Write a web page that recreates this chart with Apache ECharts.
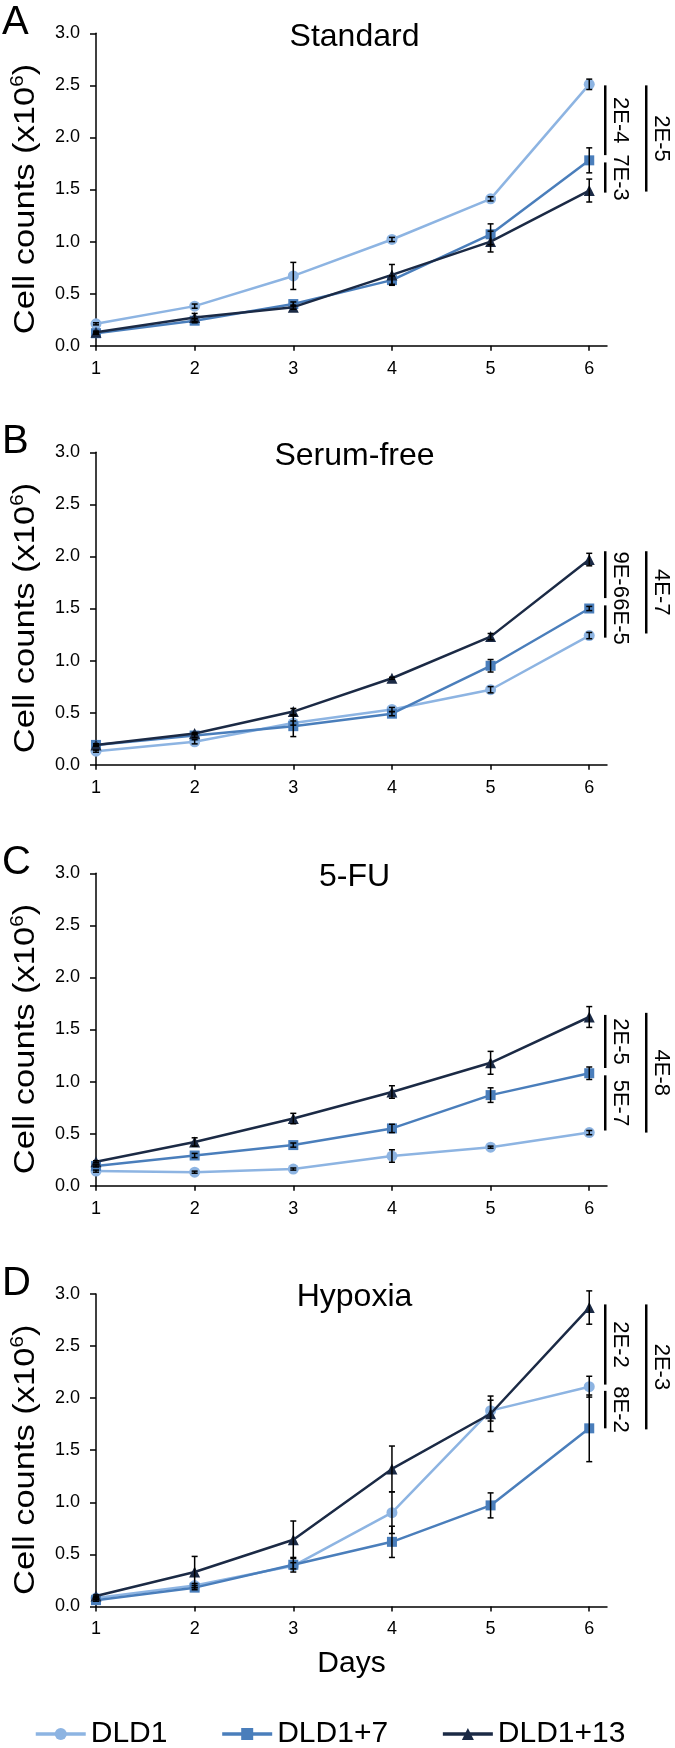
<!DOCTYPE html>
<html>
<head>
<meta charset="utf-8">
<script src="https://cdn.jsdelivr.net/npm/echarts@6/dist/echarts.min.js"></script>
<style>
html,body{margin:0;padding:0;background:#fff;}
#c{width:675px;height:1748px;}
</style>
</head>
<body>
<div id="c"></div>
<script>
// ---------- data ----------
const days = [1, 2, 3, 4, 5, 6];
const seriesNames = ['DLD1', 'DLD1+7', 'DLD1+13'];
const panelTitles = ['Standard', 'Serum-free', '5-FU', 'Hypoxia'];
const panelLetters = ['A', 'B', 'C', 'D'];
const yTickValues = [0, 0.5, 1.0, 1.5, 2.0, 2.5, 3.0];
const yAxisTitle = 'Cell counts (x10{s|6})';
const xAxisTitle = 'Days';

// A  Standard
const a_dld1 = [0.21, 0.38, 0.67, 1.02, 1.41, 2.51];
const a_dld1_err = [0.01, 0.02, 0.13, 0.02, 0.02, 0.05];
const a_p7 = [0.12, 0.24, 0.40, 0.63, 1.07, 1.78];
const a_p7_err = [0.01, 0.02, 0.02, 0.04, 0.10, 0.12];
const a_p13 = [0.13, 0.27, 0.37, 0.68, 1.00, 1.49];
const a_p13_err = [0.01, 0.04, 0.02, 0.10, 0.10, 0.11];
// B  Serum-free
const b_dld1 = [0.13, 0.22, 0.40, 0.53, 0.72, 1.24];
const b_dld1_err = [0.01, 0.02, 0.02, 0.02, 0.03, 0.03];
const b_p7 = [0.19, 0.28, 0.37, 0.49, 0.95, 1.50];
const b_p7_err = [0.01, 0.02, 0.10, 0.02, 0.06, 0.02];
const b_p13 = [0.19, 0.30, 0.51, 0.83, 1.23, 1.97];
const b_p13_err = [0.01, 0.01, 0.03, 0.01, 0.03, 0.06];
// C  5-FU
const c_dld1 = [0.14, 0.13, 0.16, 0.285, 0.37, 0.51];
const c_dld1_err = [0.01, 0.01, 0.01, 0.06, 0.01, 0.02];
const c_p7 = [0.19, 0.29, 0.39, 0.55, 0.87, 1.08];
const c_p7_err = [0.01, 0.02, 0.02, 0.04, 0.07, 0.06];
const c_p13 = [0.23, 0.42, 0.645, 0.90, 1.18, 1.62];
const c_p13_err = [0.01, 0.04, 0.05, 0.06, 0.11, 0.10];
// D  Hypoxia
const d_dld1 = [0.08, 0.20, 0.39, 0.90, 1.88, 2.11];
const d_dld1_err = [0.01, 0.02, 0.03, 0.20, 0.10, 0.10];
const d_p7 = [0.06, 0.18, 0.40, 0.62, 0.97, 1.71];
const d_p7_err = [0.01, 0.02, 0.07, 0.15, 0.12, 0.32];
const d_p13 = [0.10, 0.33, 0.64, 1.32, 1.85, 2.87];
const d_p13_err = [0.01, 0.15, 0.18, 0.22, 0.17, 0.16];

// significance brackets: [from, to, column(0 inner / 1 outer)] and their labels
const sig_a = [[2.50, 1.83, 0], [1.76, 1.47, 0], [2.50, 1.48, 1]];
const sig_a_labels = ['2E-4', '7E-3', '2E-5'];
const sig_b = [[2.05, 1.60, 0], [1.53, 1.22, 0], [2.05, 1.26, 1]];
const sig_b_labels = ['9E-6', '6E-5', '4E-7'];
const sig_c = [[1.64, 1.13, 0], [1.06, 0.53, 0], [1.66, 0.51, 1]];
const sig_c_labels = ['2E-5', '5E-7', '4E-8'];
const sig_d = [[2.90, 2.13, 0], [2.07, 1.71, 0], [2.90, 1.70, 1]];
const sig_d_labels = ['2E-2', '8E-2', '2E-3'];

// ---------- layout / style ----------
const FONT = '"Liberation Sans", Arial, Helvetica, sans-serif';
const COLORS = ['#8DB4E2', '#4A7EBB', '#1B2A45'];
const SYMBOLS = ['circle', 'rect', 'triangle'];
const SYMBOL_SIZES = [11, 10, 11];
const GRID_TOPS = [33.3, 452.3, 873.3, 1294];
const GRID_H = 312.4, GRID_L = 96, GRID_W = 511;

const panels = [
  {vals: [a_dld1, a_p7, a_p13], errs: [a_dld1_err, a_p7_err, a_p13_err], sig: sig_a, sigLabels: sig_a_labels},
  {vals: [b_dld1, b_p7, b_p13], errs: [b_dld1_err, b_p7_err, b_p13_err], sig: sig_b, sigLabels: sig_b_labels},
  {vals: [c_dld1, c_p7, c_p13], errs: [c_dld1_err, c_p7_err, c_p13_err], sig: sig_c, sigLabels: sig_c_labels},
  {vals: [d_dld1, d_p7, d_p13], errs: [d_dld1_err, d_p7_err, d_p13_err], sig: sig_d, sigLabels: sig_d_labels}
];

const chart = echarts.init(document.getElementById('c'), null, {renderer: 'canvas'});

const grids = [], xAxes = [], yAxes = [], series = [], graphics = [];

panels.forEach((p, i) => {
  grids.push({left: GRID_L, top: GRID_TOPS[i], width: GRID_W, height: GRID_H, containLabel: false});
  xAxes.push({
    gridIndex: i, type: 'value', min: 1, max: 6.18, interval: 1,
    axisLine: {show: true, lineStyle: {color: '#000', width: 1.5}},
    axisTick: {show: true, length: 5, customValues: days, lineStyle: {color: '#000', width: 1.5}},
    axisLabel: {customValues: days, fontSize: 18, color: '#000', margin: 14, fontFamily: FONT},
    splitLine: {show: false},
    name: i === 3 ? xAxisTitle : '',
    nameLocation: 'middle', nameGap: 42,
    nameTextStyle: {fontSize: 30, color: '#000', fontFamily: FONT}
  });
  yAxes.push({
    gridIndex: i, type: 'value', min: 0, max: 3, interval: 0.5,
    axisLine: {show: true, lineStyle: {color: '#000', width: 1.5}},
    axisTick: {show: true, length: 6, customValues: yTickValues, lineStyle: {color: '#000', width: 1.5}},
    axisLabel: {customValues: yTickValues, fontSize: 18, color: '#000', margin: 16, fontFamily: FONT,
      formatter: v => Number(v).toFixed(1)},
    splitLine: {show: false}
  });

  p.vals.forEach((v, j) => {
    series.push({
      type: 'line', name: seriesNames[j], xAxisIndex: i, yAxisIndex: i,
      data: days.map((d, k) => [d, v[k]]),
      symbol: SYMBOLS[j], symbolSize: SYMBOL_SIZES[j],
      lineStyle: {width: 2.5, color: COLORS[j]},
      itemStyle: {color: COLORS[j]},
      z: 2 + j, animation: false
    });
  });
  p.vals.forEach((v, j) => {
    const e = p.errs[j];
    series.push({
      type: 'custom', xAxisIndex: i, yAxisIndex: i, silent: true, z: 10, animation: false,
      encode: {x: 0, y: [1, 2]},
      data: days.map((d, k) => [d, v[k] - e[k], v[k] + e[k]]),
      renderItem: (params, api) => {
        const x = api.value(0);
        const lo = api.coord([x, api.value(1)]);
        const hi = api.coord([x, api.value(2)]);
        const w = 3, st = {stroke: '#000', lineWidth: 1.5};
        return {type: 'group', children: [
          {type: 'line', shape: {x1: lo[0], y1: lo[1], x2: hi[0], y2: hi[1]}, style: st},
          {type: 'line', shape: {x1: hi[0] - w, y1: hi[1], x2: hi[0] + w, y2: hi[1]}, style: st},
          {type: 'line', shape: {x1: lo[0] - w, y1: lo[1], x2: lo[0] + w, y2: lo[1]}, style: st}
        ]};
      }
    });
  });
  // significance brackets
  series.push({
    type: 'custom', xAxisIndex: i, yAxisIndex: i, silent: true, z: 10, clip: false, animation: false,
    encode: {x: 2, y: [0, 1]},
    data: p.sig,
    renderItem: (params, api) => {
      const a = api.coord([6, api.value(0)]);
      const b = api.coord([6, api.value(1)]);
      const col = api.value(2);
      const bx = a[0] + (col ? 57 : 16);
      const tx = a[0] + (col ? 72 : 31);
      return {type: 'group', children: [
        {type: 'line', shape: {x1: bx, y1: a[1], x2: bx, y2: b[1]}, style: {stroke: '#000', lineWidth: 2.5}},
        {type: 'text', x: tx, y: (a[1] + b[1]) / 2, rotation: -Math.PI / 2,
          style: {text: p.sigLabels[params.dataIndex], fontSize: 22, fontFamily: FONT, fill: '#000',
            align: 'center', verticalAlign: 'middle'}}
      ]};
    }
  });

  // panel letter
  graphics.push({type: 'text', left: 2, top: GRID_TOPS[i] - 10.5 - 20,
    style: {text: panelLetters[i], fontSize: 40, fontFamily: FONT, fill: '#000'}});
  // panel title
  graphics.push({type: 'text', x: GRID_L + GRID_W / 2 + 3, y: GRID_TOPS[i] + 3.5,
    style: {text: panelTitles[i], fontSize: 32, fontFamily: FONT, fill: '#000',
      align: 'center', verticalAlign: 'middle', textAlign: 'center', textVerticalAlign: 'middle'}});
  // y axis title (slightly stretched along its length, as in the source figure)
  graphics.push({type: 'text', x: 26, y: GRID_TOPS[i] + GRID_H / 2 + 9.5,
    rotation: Math.PI / 2, scaleX: 1.15, scaleY: 1,
    style: {text: yAxisTitle, fontSize: 30, fontFamily: FONT, fill: '#000',
      align: 'center', verticalAlign: 'middle', textAlign: 'center', textVerticalAlign: 'middle',
      rich: {s: {fontSize: 18, fontFamily: FONT, fill: '#000', padding: [0, 0, 16, 0]}}}});
});

chart.setOption({
  animation: false,
  backgroundColor: '#fff',
  grid: grids, xAxis: xAxes, yAxis: yAxes, series: series,
  legend: {
    data: seriesNames, left: 29, top: 1714,
    itemWidth: 50, itemHeight: 15, itemGap: 53,
    lineStyle: {width: 3.5},
    textStyle: {fontSize: 30, color: '#000', fontFamily: FONT}
  },
  graphic: graphics
});
</script>
</body>
</html>
